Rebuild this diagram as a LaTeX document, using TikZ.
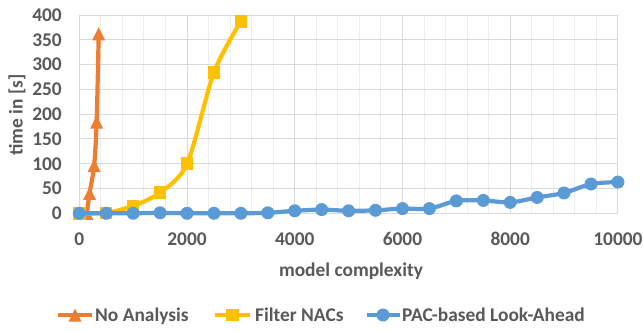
\documentclass[tikz,border=0pt]{standalone}
\usepackage{fontspec}
\setmainfont{Carlito}
\definecolor{ctext}{HTML}{595959}
\definecolor{gridmaj}{HTML}{D9D9D9}
\definecolor{gridmin}{HTML}{EDEDED}
\definecolor{sorange}{HTML}{ED7D31}
\definecolor{syellow}{HTML}{FFC000}
\definecolor{sblue}{HTML}{5B9BD5}
\begin{document}
\begin{tikzpicture}[x=1pt,y=1pt,
  lbl/.style={text=ctext, font=\fontsize{19.4}{21}\selectfont\bfseries, inner sep=0pt},
  series/.style={line width=4.2pt, line cap=round, line join=round},
  gridminor/.style={draw=gridmin, line width=0.9pt},
  gridmajor/.style={draw=gridmaj, line width=0.9pt},
]
\useasboundingbox (0,0) rectangle (643,330);
\fill[white] (0,0) rectangle (643,330);

% plot area, in data units
\begin{scope}[shift={(79.3,116.7)}, x=0.05387pt, y=0.4958pt]
  % grid
  \foreach \gx in {400,800,...,9600} \draw[gridminor] (\gx,0) -- (\gx,400);
  \foreach \gx in {0,2000,...,10000} \draw[gridmajor] (\gx,0) -- (\gx,400);
  \foreach \gy in {0,50,...,400} \draw[gridmajor] (0,\gy) -- (10000,\gy);

  % tick labels
  \foreach \gy in {0,50,...,400}
    \node[lbl, anchor=east] (yt\gy) at ([xshift=-17.3pt]0,\gy) {\gy};
  \foreach \gx in {0,2000,...,10000}
    \node[lbl, anchor=base] (xt\gx) at ([yshift=-31.7pt]\gx,0) {\gx};

  % No Analysis
  \draw[series, sorange] plot[smooth, tension=0.5] coordinates
    {(140,0) (190,40) (275,96) (322,184) (360,362)};
  \foreach \px/\py in {140/0,190/40,275/96,322/184,360/362}
    \fill[sorange] ([yshift=6.5pt]\px,\py) -- ++(-6.5pt,-13pt) -- ++(13pt,0) -- cycle;

  % Filter NACs
  \draw[series, syellow] plot[smooth, tension=0.5] coordinates
    {(0,0) (500,1) (1000,15) (1500,42) (2000,100) (2500,284) (3000,387)};
  \foreach \px/\py in {0/0,500/1,1000/15,1500/42,2000/100,2500/284,3000/387}
    \fill[syellow] ([xshift=-6.25pt,yshift=-6.25pt]\px,\py) rectangle ++(12.5pt,12.5pt);

  % PAC-based Look-Ahead
  \draw[series, sblue] plot[smooth, tension=0.5] coordinates
    {(0,0) (500,0) (1000,0) (1500,1) (2000,0) (2500,0) (3000,0) (3500,1)
     (4000,5) (4500,7.5) (5000,5) (5500,6) (6000,9.5) (6500,9.5) (7000,25)
     (7500,26) (8000,22) (8500,32) (9000,41) (9500,59) (10000,63)};
  \foreach \px/\py in {0/0,500/0,1000/0,1500/1,2000/0,2500/0,3000/0,3500/1,
     4000/5,4500/7.5,5000/5,5500/6,6000/9.5,6500/9.5,7000/25,
     7500/26,8000/22,8500/32,9000/41,9500/59,10000/63}
    \fill[sblue] (\px,\py) circle[radius=6.5pt];
\end{scope}

% axis titles
\node[lbl, rotate=90] (ytitle) at (17,215) {time in [s]};
\node[lbl, anchor=base] (xtitle) at (351,53.3) {model complexity};

% legend
\coordinate (la1) at (58,15);  \coordinate (la2) at (92,15);
\draw[series, sorange, line cap=butt] (la1) -- (la2);
\fill[sorange] (75,21.5) -- ++(-6.5,-13) -- ++(13,0) -- cycle;
\node[lbl, anchor=base west] (leg1) at (95,8.5) {No Analysis};

\coordinate (lb1) at (215,15); \coordinate (lb2) at (250,15);
\draw[series, syellow, line cap=butt] (lb1) -- (lb2);
\fill[syellow] (226.25,8.75) rectangle ++(12.5,12.5);
\node[lbl, anchor=base west] (leg2) at (255,8.5) {Filter NACs};

\coordinate (lc1) at (367,15); \coordinate (lc2) at (400,15);
\draw[series, sblue, line cap=butt] (lc1) -- (lc2);
\fill[sblue] (383,15) circle[radius=6.5];
\node[lbl, anchor=base west] (leg3) at (402,8.5) {PAC-based Look-Ahead};
\end{tikzpicture}
\end{document}
